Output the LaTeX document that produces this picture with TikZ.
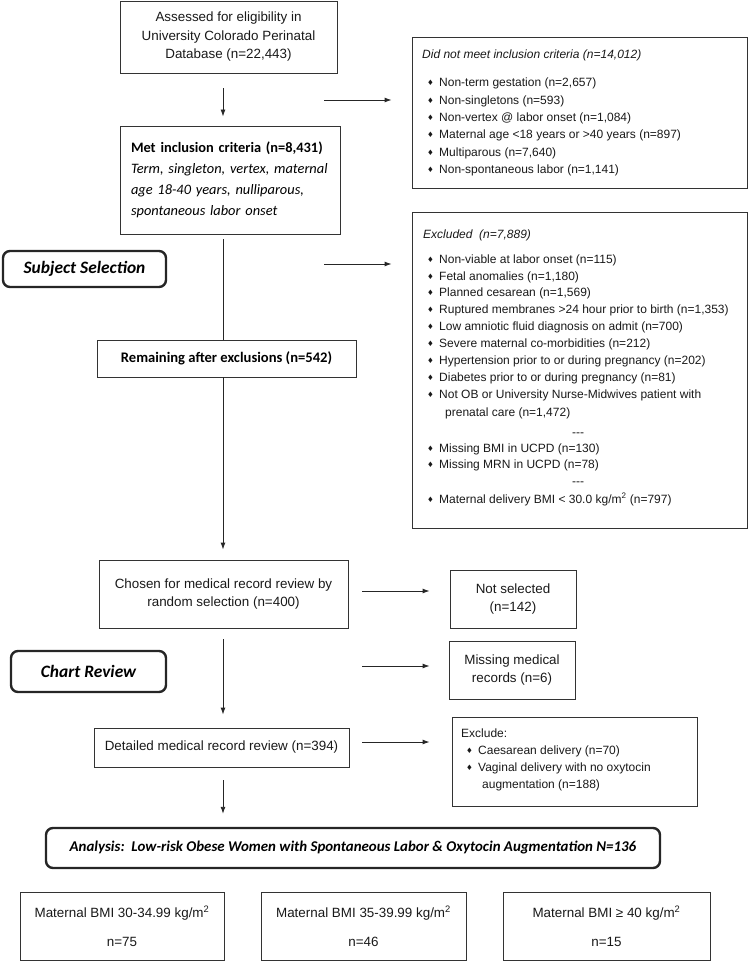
\documentclass[tikz,border=0pt]{standalone}
\usepackage{fontspec}
\setmainfont{Liberation Sans}
\newfontfamily\carl{Carlito}
\newfontfamily\dvs{DejaVu Sans}
\usetikzlibrary{arrows.meta}
\newcommand\bul{\makebox[12pt][l]{\raisebox{0.6pt}{\dvs\fontsize{7.5}{7.5}\selectfont ♦}}}
\tikzset{
  box/.style={draw=black!80, line width=0.9pt, inner sep=0pt, align=center},
  rbox/.style={draw=black!85, line width=2.4pt, rounded corners=7pt, inner sep=0pt, align=center},
  itm/.style={anchor=west, inner sep=0pt, text height=9pt, text depth=2.5pt, font=\fontsize{12}{14}\selectfont, text=black!90},
  big/.style={font=\fontsize{13.4}{18.5}\selectfont, text=black!90},
  arr/.style={-{Latex[length=7pt,width=5pt]}, line width=0.9pt, draw=black!85},
  ln/.style={line width=0.9pt, draw=black!85}
}
\begin{document}
\begin{tikzpicture}[x=1pt,y=-1pt]
\useasboundingbox (0,0) rectangle (748,968);
\coordinate (spine) at (223,0);

% top box
\node[box, big, minimum width=217, minimum height=72] (top) at (228.5,37)
  {Assessed for eligibility in\\University Colorado Perinatal\\Database (n=22,443)};

% did not meet
\node[box, minimum width=335, minimum height=151] (dnm) at (579.5,112.5) {};
\node[itm, font=\fontsize{12}{14}\selectfont\itshape] (dnmt) at (422,55) {Did not meet inclusion criteria (n=14,012)};
\node[itm] (d1) at (427,83) {\bul Non-term gestation (n=2,657)};
\node[itm] (d2) at (427,101) {\bul Non-singletons (n=593)};
\node[itm] (d3) at (427,118) {\bul Non-vertex @ labor onset (n=1,084)};
\node[itm] (d4) at (427,135) {\bul Maternal age <18 years or >40 years (n=897)};
\node[itm] (d5) at (427,153) {\bul Multiparous (n=7,640)};
\node[itm] (d6) at (427,170) {\bul Non-spontaneous labor (n=1,141)};

% met inclusion
\node[box, minimum width=220, minimum height=108, text width=198, align=left,
      font=\carl\fontsize{14.4}{21}\selectfont] (met) at (230,180)
  {\textbf{Met inclusion criteria (n=8,431)}\\
   \textit{Term, singleton, vertex, maternal}\\
   \textit{age 18-40 years, nulliparous,}\\
   \textit{spontaneous labor onset}};

% subject selection
\node[rbox, minimum width=163, minimum height=36, font=\carl\bfseries\itshape\fontsize{17.4}{20}\selectfont] (subj) at (84.5,269) {Subject Selection};

% excluded
\node[box, minimum width=335, minimum height=316] (excl) at (579.5,370) {};
\node[itm, font=\fontsize{12}{14}\selectfont\itshape] (exclt) at (423,235) {Excluded\ \ (n=7,889)};
\node[itm] (e1) at (427,260) {\bul Non-viable at labor onset (n=115)};
\node[itm] (e2) at (427,277) {\bul Fetal anomalies (n=1,180)};
\node[itm] (e3) at (427,293) {\bul Planned cesarean (n=1,569)};
\node[itm] (e4) at (427,310) {\bul Ruptured membranes >24 hour prior to birth (n=1,353)};
\node[itm] (e5) at (427,327) {\bul Low amniotic fluid diagnosis on admit (n=700)};
\node[itm] (e6) at (427,344) {\bul Severe maternal co-morbidities (n=212)};
\node[itm] (e7) at (427,361) {\bul Hypertension prior to or during pregnancy (n=202)};
\node[itm] (e8) at (427,378) {\bul Diabetes prior to or during pregnancy (n=81)};
\node[itm] (e9) at (427,395) {\bul Not OB or University Nurse-Midwives patient with};
\node[itm] (e9b) at (445,413) {prenatal care (n=1,472)};
\node[itm, anchor=center] (s1) at (578,433) {-{}-{}-};
\node[itm] (e10) at (427,449) {\bul Missing BMI in UCPD (n=130)};
\node[itm] (e11) at (427,465) {\bul Missing MRN in UCPD (n=78)};
\node[itm, anchor=center] (s2) at (578,482) {-{}-{}-};
\node[itm] (e12) at (427,500) {\bul Maternal delivery BMI < 30.0 kg/m\textsuperscript{2} (n=797)};

% remaining
\node[box, minimum width=259, minimum height=37, font=\carl\bfseries\fontsize{14.6}{17}\selectfont] (rem) at (226.5,358.5) {Remaining after exclusions (n=542)};

% chosen
\node[box, big, minimum width=249, minimum height=68] (cho) at (223.5,594)
  {Chosen for medical record review by\\random selection (n=400)};
\node[box, big, minimum width=126, minimum height=58] (nsel) at (513,599) {Not selected\\(n=142)};

% chart review
\node[rbox, minimum width=155, minimum height=41, font=\carl\bfseries\itshape\fontsize{17.4}{20}\selectfont] (chart) at (88.5,671.5) {Chart Review};
\node[box, big, minimum width=126, minimum height=58] (miss) at (512,670) {Missing medical\\records (n=6)};

% detailed
\node[box, big, minimum width=255, minimum height=39] (det) at (221.5,747.5) {Detailed medical record review (n=394)};
\node[box, minimum width=245, minimum height=89] (exc2) at (574.5,761.5) {};
\node[itm] (x0) at (461,734) {Exclude:};
\node[itm] (x1) at (466,751) {\bul Caesarean delivery (n=70)};
\node[itm] (x2) at (466,768) {\bul Vaginal delivery with no oxytocin};
\node[itm] (x2b) at (482,785) {augmentation (n=188)};

% analysis
\node[rbox, minimum width=614, minimum height=40, font=\carl\bfseries\itshape\fontsize{14.9}{17}\selectfont] (ana) at (353,848)
  {Analysis:\ \ Low-risk Obese Women with Spontaneous Labor \& Oxytocin Augmentation N=136};

% BMI groups
\node[box, big, font=\fontsize{13.4}{29}\selectfont, minimum width=204, minimum height=68] (b1) at (122,926) {Maternal BMI 30-34.99 kg/m\textsuperscript{2}\\n=75};
\node[box, big, font=\fontsize{13.4}{29}\selectfont, minimum width=205, minimum height=68] (b2) at (363.5,926) {Maternal BMI 35-39.99 kg/m\textsuperscript{2}\\n=46};
\node[box, big, font=\fontsize{13.4}{29}\selectfont, minimum width=207, minimum height=68] (b3) at (606.5,926) {Maternal BMI ≥ 40 kg/m\textsuperscript{2}\\n=15};

% vertical connectors
\draw[arr, shorten <=15pt, shorten >=9pt] (top.south -| spine) -- (met.north -| spine);
\draw[ln, shorten <=5pt] (met.south -| spine) -- (rem.north -| spine);
\draw[arr, shorten >=10pt] (rem.south -| spine) -- (cho.north -| spine);
\draw[arr, shorten <=11pt, shorten >=13pt] (cho.south -| spine) -- (det.north -| spine);
\draw[arr, shorten <=13pt, shorten >=13pt] (det.south -| spine) -- (ana.north -| spine);

% horizontal arrows
\coordinate (h1) at (324,100);
\coordinate (h2) at (324,264);
\coordinate (h3) at (362,591);
\coordinate (h4) at (362,666);
\coordinate (h5) at (362,742);
\draw[arr, shorten >=20pt] (h1) -- (h1 -| dnm.west);
\draw[arr, shorten >=20pt] (h2) -- (h2 -| excl.west);
\draw[arr, shorten >=20pt] (h3) -- (h3 -| nsel.west);
\draw[arr, shorten >=19pt] (h4) -- (h4 -| miss.west);
\draw[arr, shorten >=22pt] (h5) -- (h5 -| exc2.west);
\end{tikzpicture}
\end{document}
